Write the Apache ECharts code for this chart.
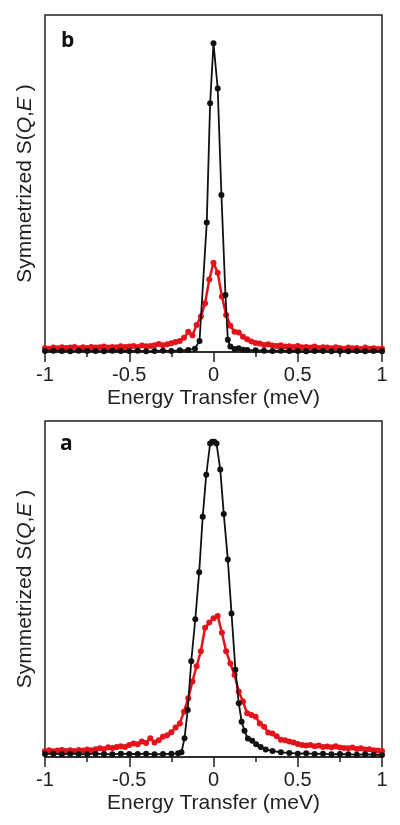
<!DOCTYPE html>
<html>
<head>
<meta charset="utf-8">
<script src="https://cdn.jsdelivr.net/npm/echarts@6/dist/echarts.min.js"></script>
<style>
  html, body { margin: 0; padding: 0; background: #fff; }
  #chart { width: 400px; height: 825px; }
</style>
</head>
<body>
<div id="chart"></div>
<script>
// Energy grid of the red (symmetrized) series, meV
const redE = [-1,-0.975,-0.95,-0.925,-0.9,-0.875,-0.85,-0.825,-0.8,-0.775,-0.75,-0.725,-0.7,-0.675,-0.65,-0.625,-0.6,-0.575,-0.55,-0.525,-0.5,-0.475,-0.45,-0.425,-0.4,-0.375,-0.35,-0.325,-0.3,-0.275,-0.25,-0.225,-0.2,-0.175,-0.15,-0.125,-0.1,-0.075,-0.05,-0.025,0,0.025,0.05,0.075,0.1,0.125,0.15,0.175,0.2,0.225,0.25,0.275,0.3,0.325,0.35,0.375,0.4,0.425,0.45,0.475,0.5,0.525,0.55,0.575,0.6,0.625,0.65,0.675,0.7,0.725,0.75,0.775,0.8,0.825,0.85,0.875,0.9,0.925,0.95,0.975,1];

// Panel b (top)
const topRedS = [1.2,1.0,1.3,1.1,1.4,1.2,1.3,1.5,1.1,1.4,
  1.2,1.5,1.3,1.4,1.6,1.3,1.5,1.4,1.7,1.5,
  1.6,1.8,1.5,1.9,1.7,1.8,2.0,2.4,2.0,2.3,
  2.6,3.0,3.3,4.2,6.0,5.0,8.0,10.5,14.5,21.5,
  26.5,
  23.5,16.5,11.0,7.8,6.0,5.8,4.5,3.8,3.1,2.7,
  2.5,2.1,2.3,1.9,1.8,2.0,1.6,1.7,1.5,1.8,
  1.4,1.5,1.3,1.6,1.2,1.4,1.3,1.1,1.4,1.2,
  1.0,1.3,1.1,1.2,0.9,1.3,1.0,1.1,0.9,1.0];
const topBlackE = [-1,-0.95,-0.9,-0.85,-0.8,-0.75,-0.7,-0.65,-0.6,-0.55,-0.5,-0.45,-0.4,-0.35,-0.3,-0.25,-0.2,-0.15,-0.11,-0.083,-0.04,-0.02,0,0.025,0.047,0.071,0.085,0.1,0.125,0.15,0.175,0.2,0.25,0.3,0.35,0.4,0.45,0.5,0.55,0.6,0.65,0.7,0.75,0.8,0.85,0.9,0.95,1];
const topBlackS = [0.3,0.4,0.3,0.2,0.4,0.3,0.3,0.2,0.4,0.3,0.3,0.4,0.2,0.3,0.4,0.3,0.5,0.6,
  1.0,3.3,38.4,73.8,
  91.6,
  78.2,46.6,16.9,3.6,1.6,0.9,1.1,0.7,0.6,
  0.5,0.4,0.3,0.4,0.3,0.3,0.2,0.3,0.3,0.2,0.3,0.2,0.3,0.2,0.3,0.2];

// Panel a (bottom)
const botRedS = [1.8,2.0,1.7,1.9,2.1,1.8,2.0,1.8,2.1,1.9,
  2.2,2.0,2.3,2.6,2.4,2.9,2.7,3.0,3.2,3.0,
  3.6,4.0,3.8,4.6,4.2,5.6,4.3,5.0,6.0,6.5,
  7.4,8.8,10.0,13.5,17.5,22.5,27.0,31.5,38.5,40.0,
  41.3,
  42.0,37.0,31.5,27.8,24.4,19.5,16.5,13.0,12.5,12.0,
  10.0,9.0,7.3,7.0,6.2,5.1,5.0,4.6,4.3,3.9,
  3.6,3.4,3.6,3.2,3.4,3.0,3.1,2.9,3.2,2.8,
  2.7,2.6,2.8,2.4,2.6,2.2,2.3,2.0,1.9,1.8];
const botBlackE = [-1,-0.95,-0.9,-0.85,-0.8,-0.75,-0.7,-0.65,-0.6,-0.55,-0.5,-0.45,-0.4,-0.35,-0.3,-0.25,
  -0.21,-0.19,-0.172,-0.153,-0.132,-0.108,-0.085,-0.064,-0.043,-0.02,-0.008,
  0.005,0.018,0.04,0.061,0.085,0.107,0.13,0.15,0.167,0.184,0.204,0.23,0.253,0.28,0.31,0.35,0.4,0.45,
  0.5,0.55,0.6,0.65,0.7,0.75,0.8,0.85,0.9,0.95,1];
const botBlackS = [0.9,1.0,0.8,1.0,0.9,0.8,1.0,0.9,0.8,1.0,0.9,0.9,1.0,0.8,0.9,1.0,
  1.1,1.4,5.6,14.0,28.5,41.0,55.0,71.5,84.0,93.3,93.8,
  93.8,93.3,85.6,72.3,58.8,42.7,26.0,16.0,10.5,7.8,5.5,4.8,3.8,3.0,2.2,1.8,1.4,1.2,
  1.0,1.1,0.9,1.0,0.8,0.9,0.8,0.7,0.8,0.7,0.6];

const xTicks = { min: -1, max: 1, interval: 0.5 };
const panelLabels = ['b', 'a'];
const xName = 'Energy Transfer (meV)';
const yName = 'Symmetrized S({i|Q},{i|E} )';

const pair = (xs, ys) => xs.map((x, i) => [x, ys[i]]);
const FONT = 'Liberation Sans';
const AX = '#222';
const RED = '#e5121a';

function xAxisCfg(gi) {
  return {
    gridIndex: gi, type: 'value', min: xTicks.min, max: xTicks.max, interval: xTicks.interval,
    axisLine: { show: true, onZero: false, lineStyle: { color: AX, width: 1.5 } },
    axisTick: { show: true, length: 10, lineStyle: { color: AX, width: 1.5 } },
    minorTick: { show: true, splitNumber: 2, length: 5, lineStyle: { color: AX, width: 1.5 } },
    splitLine: { show: false },
    axisLabel: { fontSize: 20, color: AX, fontFamily: FONT, margin: 13 },
    name: xName, nameLocation: 'middle', nameGap: 36,
    nameTextStyle: { fontSize: 21, color: AX, fontFamily: FONT }
  };
}
function yAxisCfg(gi) {
  return {
    gridIndex: gi, type: 'value', min: 0, max: 100,
    axisLine: { show: false }, axisTick: { show: false }, axisLabel: { show: false },
    splitLine: { show: false },
    name: yName, nameLocation: 'middle', nameGap: 9, nameRotate: 90,
    nameTextStyle: { fontSize: 21, color: AX, fontFamily: FONT,
      rich: { i: { fontSize: 21, fontStyle: 'italic', color: AX, fontFamily: FONT } } }
  };
}
function redSeries(gi, ys) {
  return { type: 'line', xAxisIndex: gi, yAxisIndex: gi, data: pair(redE, ys),
    symbol: 'circle', symbolSize: 6, showAllSymbol: true, z: 2,
    lineStyle: { color: RED, width: 2.5 }, itemStyle: { color: RED } };
}
function blackSeries(gi, xs, ys) {
  return { type: 'line', xAxisIndex: gi, yAxisIndex: gi, data: pair(xs, ys),
    symbol: 'circle', symbolSize: 6, showAllSymbol: true, z: 3,
    lineStyle: { color: '#111', width: 1.8 }, itemStyle: { color: '#111' } };
}

const chart = echarts.init(document.getElementById('chart'), null, { renderer: 'canvas' });
chart.setOption({
  animation: false,
  backgroundColor: '#fff',
  textStyle: { fontFamily: FONT },
  grid: [
    { left: 45, top: 15, width: 337, height: 337, show: true, borderColor: AX, borderWidth: 1.5 },
    { left: 45, top: 421, width: 337, height: 336, show: true, borderColor: AX, borderWidth: 1.5 }
  ],
  xAxis: [xAxisCfg(0), xAxisCfg(1)],
  yAxis: [yAxisCfg(0), yAxisCfg(1)],
  series: [
    redSeries(0, topRedS), blackSeries(0, topBlackE, topBlackS),
    redSeries(1, botRedS), blackSeries(1, botBlackE, botBlackS)
  ],
  graphic: [
    { type: 'text', left: 61, top: 31, style: { text: panelLabels[0], font: 'bold 21px "Open Sans"', fill: '#111' } },
    { type: 'text', left: 60, top: 434, style: { text: panelLabels[1], font: 'bold 21px "Open Sans"', fill: '#111' } }
  ]
});
</script>
</body>
</html>
